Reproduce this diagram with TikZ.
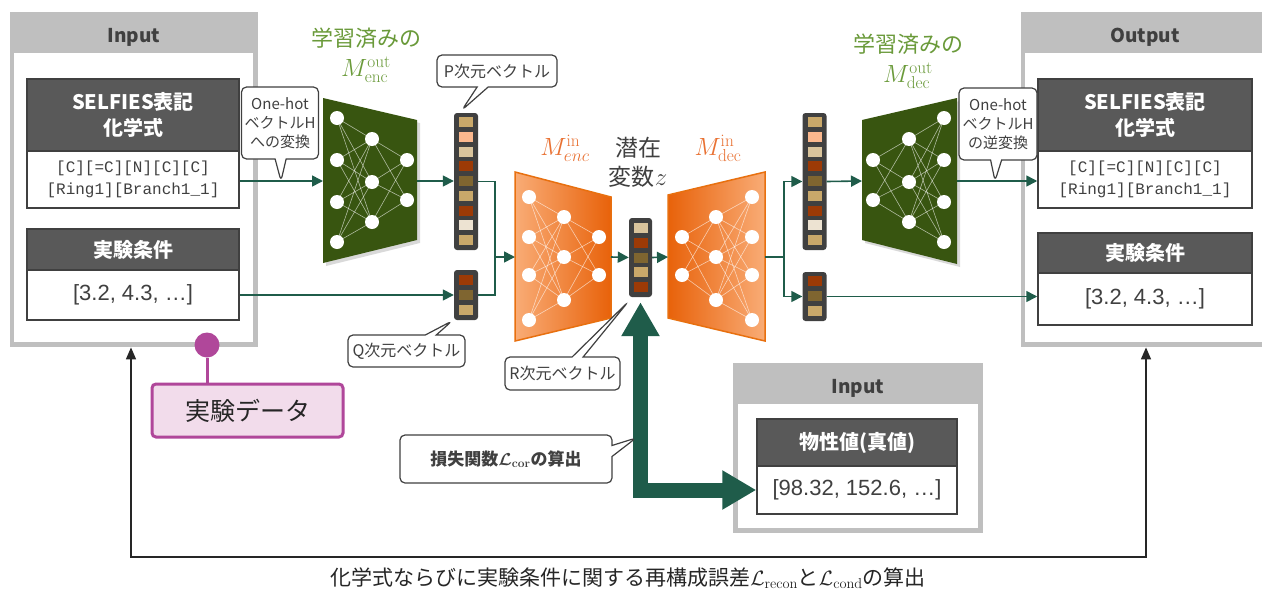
\documentclass[tikz,border=0pt]{standalone}
\usepackage[no-math]{fontspec}
\setmainfont{Liberation Sans}
\newfontfamily\jp{Noto Sans CJK JP}
\newfontfamily\monof{Liberation Mono}
\usetikzlibrary{arrows.meta,shapes.callouts,calc}
\definecolor{hdrgray}{HTML}{595959}
\definecolor{framegray}{HTML}{BFBFBF}
\definecolor{bordergray}{HTML}{404040}
\definecolor{arrgreen}{HTML}{1F5C4A}
\definecolor{nngreen}{HTML}{385510}
\definecolor{lblgreen}{HTML}{6A9A3A}
\definecolor{orgdark}{HTML}{E8620A}
\definecolor{orglight}{HTML}{F9AC76}
\definecolor{orgline}{HTML}{E8700F}
\definecolor{orglbl}{HTML}{E97132}
\definecolor{magA}{HTML}{B0479A}
\definecolor{pinkA}{HTML}{F2DCEB}
\definecolor{cA}{HTML}{C9A86A}
\definecolor{cB}{HTML}{FBB88E}
\definecolor{cC}{HTML}{D9C49C}
\definecolor{cD}{HTML}{9C3A06}
\definecolor{cE}{HTML}{7F6530}
\definecolor{cF}{HTML}{EDE3D2}
\newcommand{\myfs}[2]{\fontsize{#1pt}{#2pt}\selectfont}
\newcommand{\veccells}[3]{\foreach \c [count=\i] in {#3}{\fill[\c] ({#1-7},{#2+(\i-1)*14.75-5}) rectangle ++(14,10);}}
\newcommand{\nnet}[6]{%
 \foreach \a in {#2}{\foreach \b in {#4}{\draw[nnedge] (#1,\a) -- (#3,\b);}}%
 \foreach \a in {#4}{\foreach \b in {#6}{\draw[nnedge] (#3,\a) -- (#5,\b);}}%
 \foreach \a in {#2}{\fill[white] (#1,\a) circle[radius=7pt];}%
 \foreach \a in {#4}{\fill[white] (#3,\a) circle[radius=7pt];}%
 \foreach \a in {#6}{\fill[white] (#5,\a) circle[radius=7pt];}%
}
\begin{document}
\begin{tikzpicture}[x=1pt,y=-1pt,
  frame/.style={fill=framegray, anchor=north west, inner sep=0pt},
  inner/.style={fill=white, anchor=north west, inner sep=0pt},
  ftitle/.style={text=bordergray, font=\jp\bfseries\myfs{19}{22}},
  hdr/.style={fill=hdrgray, draw=bordergray, line width=1.5pt, text=white, font=\jp\bfseries\myfs{20}{26}, align=center, inner sep=0pt},
  bodybox/.style={fill=white, draw=bordergray, line width=1.5pt, align=center, inner sep=0pt, text=bordergray},
  callbox/.style={rectangle callout, draw=bordergray, fill=white, line width=1.2pt, rounded corners=5pt, align=center, inner sep=0pt, callout pointer width=11pt, text=bordergray, font=\jp\myfs{15}{19}},
  arr/.style={draw=arrgreen, line width=1.6pt, -{Triangle[length=11pt,width=11pt]}},
  ln/.style={draw=arrgreen, line width=1.6pt},
  nnedge/.style={draw=white, opacity=0.6, line width=0.6pt},
  vecbg/.style={fill=bordergray, rounded corners=3pt, inner sep=0pt, minimum width=24pt},
  glbl/.style={text=lblgreen, font=\jp\myfs{22}{26}},
  olbl/.style={text=orglbl, font=\myfs{23}{26}},
  fb/.style={draw=black!85, line width=1.5pt, {Triangle[length=12pt,width=10pt]}-{Triangle[length=12pt,width=10pt]}},
  bigarr/.style={draw=arrgreen, line width=15pt, {Triangle[length=34pt,width=36pt]}-{Triangle[length=34pt,width=37pt]}}
]
\useasboundingbox (0,0) rectangle (1262,592);
\fill[white] (0,0) rectangle (1262,592);

% ---------- frames ----------
\node[frame, minimum width=248pt, minimum height=335pt] (inFrame) at (10,12) {};
\node[inner, minimum width=239pt, minimum height=289pt] (inInner) at (14,53) {};
\node[ftitle] (inTitle) at (134,37) {Input};

\node[frame, minimum width=260pt, minimum height=335pt] (outFrame) at (1021,12) {};
\node[inner, minimum width=260pt, minimum height=289pt] (outInner) at (1025,53) {};
\node[ftitle] (outTitle) at (1145,37) {Output};

\node[frame, minimum width=250pt, minimum height=170pt] (btFrame) at (733,363) {};
\node[inner, minimum width=240pt, minimum height=124pt] (btInner) at (738,404) {};
\node[ftitle] (btTitle) at (858,388) {Input};

% ---------- input boxes ----------
\node[hdr, minimum width=212pt, minimum height=72pt] (selInH) at (133,115) {SELFIES表記\\化学式};
\node[bodybox, minimum width=212pt, minimum height=57pt, font=\monof\myfs{16}{22}] (selInB) at (133,179.5) {[C][=C][N][C][C]\\{[Ring1][Branch1\_1]}};
\node[hdr, minimum width=212pt, minimum height=41pt] (condInH) at (133,249.5) {実験条件};
\node[bodybox, minimum width=212pt, minimum height=50pt, font=\myfs{22}{26}] (condInB) at (133,295) {[3.2, 4.3, …]};

% ---------- output boxes ----------
\node[hdr, minimum width=214pt, minimum height=72pt] (selOutH) at (1145,115) {SELFIES表記\\化学式};
\node[bodybox, minimum width=214pt, minimum height=57pt, font=\monof\myfs{16}{22}] (selOutB) at (1145,179.5) {[C][=C][N][C][C]\\{[Ring1][Branch1\_1]}};
\node[hdr, minimum width=214pt, minimum height=40pt] (condOutH) at (1145,253) {実験条件};
\node[bodybox, minimum width=214pt, minimum height=52pt, font=\myfs{22}{26}] (condOutB) at (1145,299) {[3.2, 4.3, …]};

% ---------- property box ----------
\node[hdr, minimum width=200pt, minimum height=47pt] (propH) at (857,442.5) {物性値(真値)};
\node[bodybox, minimum width=200pt, minimum height=48pt, font=\myfs{22}{26}] (propB) at (857,490) {[98.32, 152.6, …]};

% ---------- green networks ----------
\fill[black, opacity=0.15] (326,101) -- (420,123) -- (420,243) -- (326,266) -- cycle;
\fill[nngreen] (323,98) -- (417,120) -- (417,240) -- (323,263) -- cycle;
\nnet{337}{118,160,202,242}{372}{139,182,222}{407}{160,200}
\coordinate (encOutL) at (323,181);
\coordinate (encOutR) at (417,181);

\fill[black, opacity=0.15] (865,123) -- (960,101) -- (960,267) -- (865,243) -- cycle;
\fill[nngreen] (862,120) -- (957,98) -- (957,264) -- (862,240) -- cycle;
\nnet{873}{160,200}{909}{139,182,222}{944}{118,160,202,242}
\coordinate (decOutL) at (862,181);
\coordinate (decOutR) at (957,181);

% ---------- orange networks ----------
\draw[left color=orglight, right color=orgdark, draw=orgline, line width=1.5pt] (515,172) -- (611,197) -- (611,318) -- (515,341) -- cycle;
\nnet{529}{197,237,275,320}{564}{217,257,300}{599}{237,275}
\coordinate (encInL) at (515,257);
\coordinate (encInR) at (611,257);

\draw[left color=orgdark, right color=orglight, draw=orgline, line width=1.5pt] (668,195) -- (765,172) -- (765,341) -- (668,318) -- cycle;
\nnet{682}{237,275}{716}{217,257,300}{752}{197,237,275,320}
\coordinate (decInL) at (668,257);
\coordinate (decInR) at (765,257);

% ---------- vectors ----------
\node[vecbg, minimum height=137pt] (pVec) at (466,181.5) {};
\veccells{466}{122}{cA,cB,cC,cD,cE,cA,cD,cF,cA}
\node[vecbg, minimum height=50pt] (qVec) at (466,295) {};
\veccells{466}{280}{cD,cE,cA}
\node[vecbg, minimum height=79pt, minimum width=23pt] (zVec) at (640.5,257.5) {};
\veccells{640.5}{228}{cC,cD,cE,cA,cD}
\node[vecbg, minimum height=137pt] (opVec) at (814.5,181.5) {};
\veccells{814.5}{122}{cA,cB,cC,cD,cE,cA,cD,cF,cA}
\node[vecbg, minimum height=49pt] (oqVec) at (814.5,296.5) {};
\veccells{814.5}{281}{cD,cE,cA}

% ---------- labels ----------
\node[glbl] (trA) at (366,38) {学習済みの};
\node[glbl, font=\myfs{23}{26}] (mEncOut) at (366,70) {$M^{\mathrm{out}}_{\mathrm{enc}}$};
\node[glbl] (trB) at (908,44) {学習済みの};
\node[glbl, font=\myfs{23}{26}] (mDecOut) at (908,76) {$M^{\mathrm{out}}_{\mathrm{dec}}$};
\node[olbl] (mEncIn) at (565,148) {$M^{\mathrm{in}}_{enc}$};
\node[olbl] (mDecIn) at (718,148) {$M^{\mathrm{in}}_{\mathrm{dec}}$};
\node[text=bordergray, font=\jp\myfs{23}{29}, align=center] (latent) at (638,162) {潜在\\変数$z$};

% ---------- connectors ----------
\draw[arr] (selInB.east |- encOutL) -- (encOutL);
\draw[arr] (encOutR) -- (pVec.west |- encOutR);
\draw[arr] (condInB.east) -- (qVec.west);
\coordinate (mergeA) at (495,257);
\draw[ln] (pVec.east) -| (mergeA);
\draw[ln] (qVec.east) -| (mergeA);
\draw[arr] (mergeA) -- (encInL);
\draw[arr] (encInR) -- (zVec.west);
\draw[arr] (zVec.east) -- (decInL);
\coordinate (splitA) at (784,257);
\draw[ln] (decInR) -- (splitA);
\draw[arr] (splitA) |- (opVec.west);
\draw[arr] (splitA) |- (oqVec.west);
\draw[arr] (opVec.east) -- (decOutL);
\draw[arr] (decOutR) -- (selOutB.west |- decOutR);
\draw[arr] (oqVec.east) -- (oqVec.east -| condOutB.west);

% thick arrow
\draw[bigarr] ([yshift=-5pt]zVec.south) |- (propB.west);

% feedback
\coordinate (fbL) at (131,557);
\coordinate (fbR) at (1146,557);
\draw[fb] (inFrame.south -| fbL) -- (fbL) -- (fbR) -- (outFrame.south -| fbR);
\node[text=black!85, font=\jp\myfs{21}{24}] (bottomTxt) at (628,578) {化学式ならびに実験条件に関する再構成誤差$\mathcal{L}_{\mathrm{recon}}$と$\mathcal{L}_{\mathrm{cond}}$の算出};

% ---------- callouts ----------
\node[callbox, minimum width=77pt, minimum height=72pt, callout absolute pointer={(281,181)}] (cOneIn) at (280,123) {One-hot\\ベクトルH\\への変換};
\node[callbox, minimum width=78pt, minimum height=72pt, callout absolute pointer={(995,181)}] (cOneOut) at (998,124) {One-hot\\ベクトルH\\の逆変換};
\node[callbox, minimum width=120pt, minimum height=32pt, font=\jp\myfs{16}{19}, callout absolute pointer={(462,110)}] (cP) at (497,71) {P次元ベクトル};
\node[callbox, minimum width=117pt, minimum height=32pt, font=\jp\myfs{16}{19}, callout absolute pointer={(452,321)}] (cQ) at (406.5,351) {Q次元ベクトル};
\node[callbox, minimum width=115pt, minimum height=33pt, font=\jp\myfs{16}{19}, callout absolute pointer={(628,302)}] (cR) at (562.5,373.5) {R次元ベクトル};
\node[callbox, minimum width=212pt, minimum height=48pt, font=\jp\bfseries\boldmath\myfs{17}{20}, callout absolute pointer={(636,438)}] (cLoss) at (506,459) {損失関数$\mathcal{L}_{\mathrm{cor}}$の算出};

% ---------- experiment data tag ----------
\node[draw=magA, line width=3pt, fill=pinkA, rounded corners=4pt, minimum width=191pt, minimum height=53pt, text=black!85, font=\jp\myfs{25}{28}] (dataBox) at (247.5,410.5) {実験データ};
\node[circle, fill=magA, minimum size=25pt, inner sep=0pt] (dot) at (207,345) {};
\draw[magA, line width=3pt] (dot) -- (dot |- dataBox.north);
\end{tikzpicture}
\end{document}
